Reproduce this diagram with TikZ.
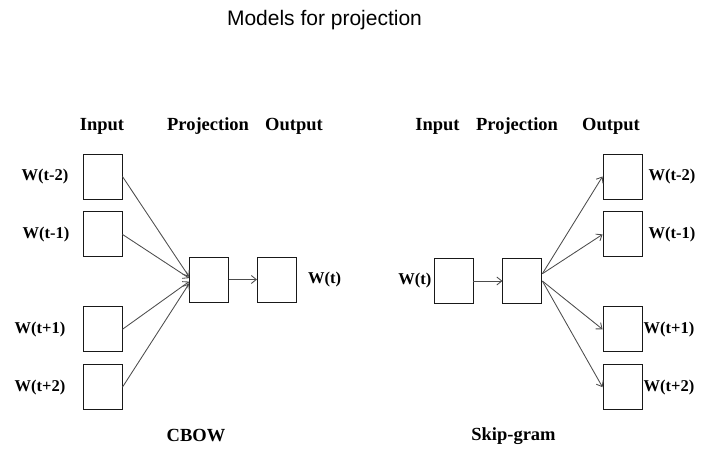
\documentclass[tikz,border=0pt]{standalone}
\usepackage{fontspec}
\setmainfont{Liberation Serif}
\newfontfamily\titlefont{Liberation Sans}
\usepackage{tikz}
\usetikzlibrary{arrows.meta}
\usetikzlibrary{positioning}

\begin{document}
\begin{tikzpicture}[x=1pt, y=-1pt, node distance=12pt]
  \tikzstyle{unit}=[rectangle, draw=black!90, line width=0.9pt, minimum width=39pt, minimum height=45pt, inner sep=0pt]
  \tikzstyle{connect}=[-{Straight Barb[length=5pt,width=8pt]}, line width=0.85pt, draw=black!70]
  \tikzstyle{word}=[font=\bfseries\fontsize{16.5}{18}\selectfont, inner sep=0pt]
  \tikzstyle{head}=[font=\bfseries\fontsize{18.5}{20}\selectfont, inner sep=0pt]
  \useasboundingbox (0,0) rectangle (726,468);
    \node[font=\titlefont\fontsize{21}{24}\selectfont, inner sep=0pt] (title) at (324.5,20) {Models for projection};
    % CBOW
    \node[unit] (in1) at (102.5,176.5) {};
    \node[unit] (in2) [below=of in1] {};
    \node[unit] (in3) [below=of in2, yshift=-37pt] {};
    \node[unit] (in4) [below=of in3] {};
    \node[unit] (proj) at (209,279.5) {};
    \node[unit] (out) [right=28pt of proj] {};
    \node[word] (w1) [left=14pt of in1] {W(t-2)};
    \node[word] (w2) [left=13pt of in2] {W(t-1)};
    \node[word] (w3) [left=17pt of in3] {W(t+1)};
    \node[word] (w4) [left=17pt of in4] {W(t+2)};
    \node[word] (wt) [right=11pt of out] {W(t)};
    \node[head] (inhead) at (102,126) {Input};
    \node[head] (projhead) at (208,126) {Projection};
    \node[head] (outhead) at (294,126) {Output};
    \node[head] (cbow) at (196,436) {CBOW};
    \path (in1.east) edge [connect] (proj.172)
          (in2.east) edge [connect] (proj.176)
          (in3.east) edge [connect] (proj.186)
          (in4.east) edge [connect] (proj.192)
          (proj) edge [connect] (out);
    % Skip-gram
    \node[unit] (sin) at (453.5,281) {};
    \node[unit] (sproj) [right=29pt of sin] {};
    \node[unit] (sout1) at (622.5,176.5) {};
    \node[unit] (sout2) [below=of sout1] {};
    \node[unit] (sout3) [below=of sout2, yshift=-37pt] {};
    \node[unit] (sout4) [below=of sout3] {};
    \node[word] (sw) [left=2pt of sin] {W(t)};
    \node[word] (sw1) [right=6pt of sout1] {W(t-2)};
    \node[word] (sw2) [right=6pt of sout2] {W(t-1)};
    \node[word] (sw3) [right=1pt of sout3] {W(t+1)};
    \node[word] (sw4) [right=1pt of sout4] {W(t+2)};
    \node[head] (sinhead) at (437.5,126) {Input};
    \node[head] (sprojhead) at (517,126) {Projection};
    \node[head] (south) at (611,126) {Output};
    \node[head] (skip) at (513.5,436) {Skip-gram};
    \path (sin) edge [connect] (sproj)
          (sproj.20) edge [connect] (sout1.west)
          (sproj.20) edge [connect] (sout2.west)
          (sproj.east) edge [connect] (sout3.west)
          (sproj.east) edge [connect] (sout4.west);
  \end{tikzpicture}
\end{document}
